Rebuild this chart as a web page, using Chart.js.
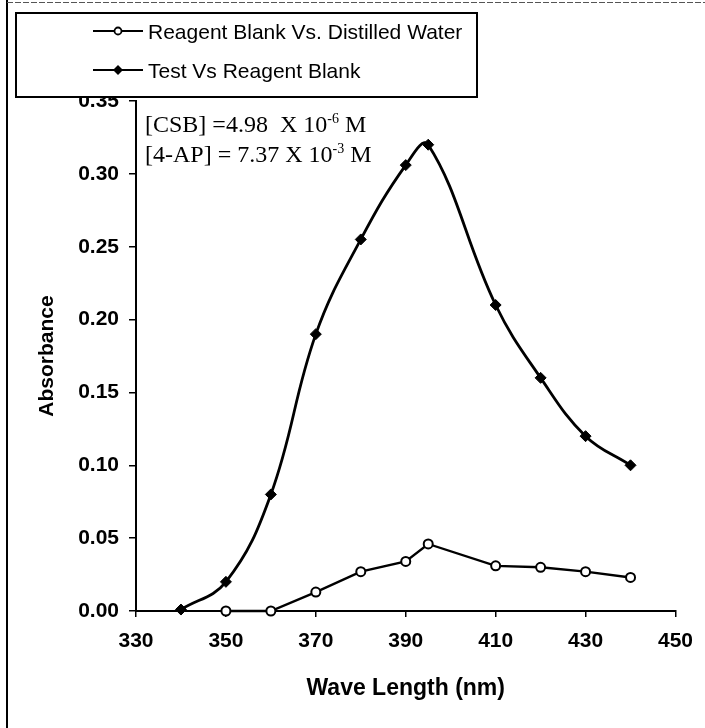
<!DOCTYPE html>
<html>
<head>
<meta charset="utf-8">
<script src="https://cdn.jsdelivr.net/npm/chart.js@4.4.1/dist/chart.umd.min.js"></script>
<style>
  html, body { margin: 0; padding: 0; background: #fff; }
  #wrap { width: 705px; height: 728px; position: relative; }
</style>
</head>
<body>
<div id="wrap"><canvas id="specChart" width="705" height="728"></canvas></div>
<script>
// values
var blankWave = [350, 360, 370, 380, 390, 395, 410, 420, 430, 440];
var blankAbs = [0.000, 0.000, 0.013, 0.027, 0.034, 0.046, 0.031, 0.030, 0.027, 0.023];

var testWave = [340, 350, 360, 370, 380, 390, 395, 410, 420, 430, 440];
var testAbs = [0.001, 0.020, 0.080, 0.190, 0.255, 0.306, 0.320, 0.210, 0.160, 0.120, 0.100];

var xTicks = [330, 350, 370, 390, 410, 430, 450];
var yTicks = [0, 0.05, 0.10, 0.15, 0.20, 0.25, 0.30, 0.35];

var seriesNames = ["Reagent Blank Vs. Distilled Water", "Test Vs Reagent Blank"];

function toPoints(xs, ys) {
  var pts = [];
  for (var i = 0; i < xs.length; i++) {
    pts.push({ x: xs[i], y: ys[i] });
  }
  return pts;
}

var sansFont = "'Liberation Sans', Arial, sans-serif";
var serifFont = "'Liberation Serif', 'Times New Roman', serif";

// legend box + concentration note + scan frame
var extrasPlugin = {
  id: "extras",
  afterDraw: function (chart) {
    var ctx = chart.ctx;
    var area = chart.chartArea;
    ctx.save();

    // frame of the scanned page
    ctx.strokeStyle = "#000";
    ctx.lineWidth = 2;
    ctx.beginPath();
    ctx.moveTo(7, 0);
    ctx.lineTo(7, 728);
    ctx.stroke();
    ctx.strokeStyle = "#555";
    ctx.lineWidth = 1;
    ctx.setLineDash([6, 2]);
    ctx.beginPath();
    ctx.moveTo(7, 2.5);
    ctx.lineTo(705, 2.5);
    ctx.stroke();
    ctx.setLineDash([]);

    // legend
    ctx.fillStyle = "#fff";
    ctx.fillRect(16, 13, 461, 84);
    ctx.strokeStyle = "#000";
    ctx.lineWidth = 2;
    ctx.strokeRect(16, 13, 461, 84);

    var rows = [31, 70];
    for (var i = 0; i < rows.length; i++) {
      var yy = rows[i];
      ctx.strokeStyle = "#000";
      ctx.lineWidth = 2;
      ctx.beginPath();
      ctx.moveTo(93, yy);
      ctx.lineTo(143, yy);
      ctx.stroke();
      if (i === 0) {
        ctx.beginPath();
        ctx.arc(118, yy, 3.5, 0, Math.PI * 2);
        ctx.fillStyle = "#fff";
        ctx.fill();
        ctx.lineWidth = 1.8;
        ctx.stroke();
      } else {
        ctx.beginPath();
        ctx.moveTo(118, yy - 5);
        ctx.lineTo(123, yy);
        ctx.lineTo(118, yy + 5);
        ctx.lineTo(113, yy);
        ctx.closePath();
        ctx.fillStyle = "#000";
        ctx.fill();
      }
      ctx.fillStyle = "#000";
      ctx.font = "21px " + sansFont;
      ctx.textAlign = "left";
      ctx.textBaseline = "alphabetic";
      ctx.fillText(seriesNames[i], 148, yy + 8);
    }

    // concentration note
    var notes = [
      ["[CSB] =4.98  X 10", "-6", " M"],
      ["[4-AP] = 7.37 X 10", "-3", " M"]
    ];
    var x0 = area.left + 9;
    var base = [area.top + 31, area.top + 61];
    for (var j = 0; j < notes.length; j++) {
      var x = x0;
      ctx.font = "24px " + serifFont;
      ctx.fillText(notes[j][0], x, base[j]);
      x += ctx.measureText(notes[j][0]).width;
      ctx.font = "14px " + serifFont;
      ctx.fillText(notes[j][1], x, base[j] - 9);
      x += ctx.measureText(notes[j][1]).width;
      ctx.font = "24px " + serifFont;
      ctx.fillText(notes[j][2], x, base[j]);
    }
    ctx.restore();
  }
};

var ctx = document.getElementById("specChart").getContext("2d");
var chart = new Chart(ctx, {
  type: "line",
  data: {
    datasets: [
      {
        label: seriesNames[0],
        data: toPoints(blankWave, blankAbs),
        borderColor: "#000",
        borderWidth: 2.4,
        tension: 0,
        pointStyle: "circle",
        pointRadius: 4.5,
        pointBorderWidth: 2,
        pointBackgroundColor: "#fff",
        pointBorderColor: "#000"
      },
      {
        label: seriesNames[1],
        data: toPoints(testWave, testAbs),
        borderColor: "#000",
        borderWidth: 2.8,
        tension: 0.4,
        pointStyle: "rectRot",
        pointRadius: 5.5,
        pointBorderWidth: 1,
        pointBackgroundColor: "#000",
        pointBorderColor: "#000"
      }
    ]
  },
  options: {
    responsive: false,
    animation: false,
    devicePixelRatio: 1,
    clip: false,
    layout: { padding: { left: 0, right: 28, top: 101, bottom: 0 } },
    plugins: {
      legend: { display: false },
      tooltip: { enabled: false }
    },
    scales: {
      x: {
        type: "linear",
        min: 330,
        max: 450,
        afterBuildTicks: function (scale) {
          scale.ticks = xTicks.map(function (v) { return { value: v }; });
        },
        afterFit: function (scale) { scale.height = 117; },
        border: { display: true, color: "#000", width: 2 },
        grid: { drawOnChartArea: false, drawTicks: true, tickLength: 6, color: "#000", lineWidth: 1.5 },
        ticks: {
          color: "#000",
          padding: 12,
          maxRotation: 0,
          font: { family: sansFont, size: 21, weight: "bold" }
        },
        title: {
          display: true,
          text: "Wave Length (nm)",
          color: "#000",
          padding: { top: 0, bottom: 26 },
          font: { family: sansFont, size: 23, weight: "bold" }
        }
      },
      y: {
        min: 0,
        max: 0.35,
        afterBuildTicks: function (scale) {
          scale.ticks = yTicks.map(function (v) { return { value: v }; });
        },
        afterFit: function (scale) { scale.width = 136; },
        border: { display: true, color: "#000", width: 2 },
        grid: { drawOnChartArea: false, drawTicks: true, tickLength: 7, color: "#000", lineWidth: 1.5 },
        ticks: {
          color: "#000",
          padding: 10,
          font: { family: sansFont, size: 21, weight: "bold" },
          callback: function (v) { return Number(v).toFixed(2); }
        },
        title: {
          display: true,
          text: "Absorbance",
          color: "#000",
          padding: { top: 35, bottom: 0 },
          font: { family: sansFont, size: 21, weight: "bold" }
        }
      }
    }
  },
  plugins: [extrasPlugin]
});
</script>
</body>
</html>
